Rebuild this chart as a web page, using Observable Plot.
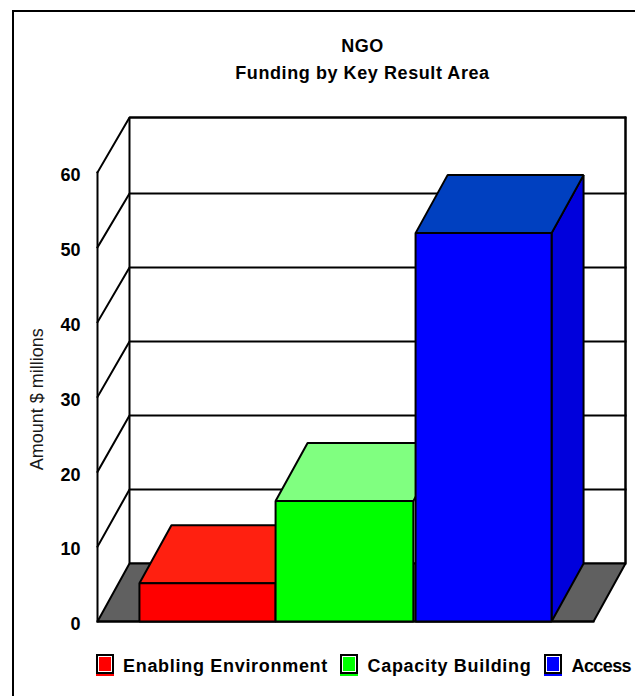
<!DOCTYPE html>
<html>
<head>
<meta charset="utf-8">
<script src="https://cdn.jsdelivr.net/npm/d3@7"></script>
<script src="https://cdn.jsdelivr.net/npm/@observablehq/plot@0.6"></script>
<style>
  html, body { margin: 0; padding: 0; background: #fff; overflow: hidden; }
  body { font-family: "Liberation Sans", Arial, sans-serif; color: #000; }
  #frame { position: relative; width: 635px; height: 696px; }
  #frame::before { content: ""; position: absolute; left: 12px; top: 10px; right: 0; bottom: 0;
    border-left: 2px solid #000; border-top: 2px solid #000; }
  #title { position: absolute; left: 90px; right: 0; top: 33px; height: 54px; text-align: center;
    font-weight: bold; font-size: 18px; letter-spacing: 0.58px; line-height: 27px; }
  #chart { position: absolute; left: 0; top: 100px; }
  #chart svg { display: block; }
  .key { position: absolute; top: 654px; display: flex; }
  .swatch { position: absolute; top: 0; width: 18px; height: 22px; box-sizing: border-box;
    border-bottom: 2px solid; }
  .swatch i { display: block; box-sizing: border-box; width: 18px; height: 20px;
    border: 2px solid #000; outline: 1px solid #fff; outline-offset: -3px; }
  .name { position: absolute; top: 2px; white-space: nowrap; font-weight: bold; font-size: 18px;
    letter-spacing: 0.7px; line-height: 20px; }
  .key:last-child .name { letter-spacing: -0.6px; }
</style>
</head>
<body>
<div id="frame">
  <div id="title">NGO<br>Funding by Key Result Area</div>
  <div id="chart"></div>
  <div id="legend"></div>
</div>
<script>
// Funding per key result area, $ millions
const categories = ["Enabling Environment", "Capacity Building", "Access"];
const funding = [5.1, 16.1, 51.9];
const barLeft = [0.305, 1.295, 2.313];
const barRight = [1.295, 2.297, 3.302];
const faceColors = ["#ff0000", "#00ff00", "#0000ff"];
const topColors = ["#ff2010", "#80ff80", "#0040c0"];
const sideColor = "#0000dc";
const floorColor = "#606060";
const yTicks = [0, 10, 20, 30, 40, 50, 60];
const legendSwatchX = [96, 340, 544];
const legendNameX = [123, 367.5, 571.5];

// Oblique projection: depth moves a point right and up, in scale units
const depthX = 0.2327, depthY = 7.75;
const floorEnd = 3.607, wallTop = 67.35;
const backLevel = v => v === 60 ? wallTop : depthY + v * 0.989;

const lineWidth = 2;
const outline = {stroke: "#000", strokeWidth: lineWidth, strokeLinejoin: "miter", curve: "linear-closed"};
const poly = (pts, fill) => Plot.line(pts, {x: "0", y: "1", fill, ...outline});
const seg = pts => Plot.line(pts, {x: "0", y: "1", stroke: "#000", strokeWidth: lineWidth, strokeLinecap: "square"});

const marks = [
  // back wall and floor
  poly([[depthX, depthY], [floorEnd + depthX, depthY], [floorEnd + depthX, wallTop], [depthX, wallTop]], "#fff"),
  poly([[0, 0], [depthX, depthY], [floorEnd + depthX, depthY], [floorEnd, 0]], floorColor),
  // gridlines across the back wall and down the left side
  ...yTicks.slice(1).map(v => seg([[0, v], [depthX, backLevel(v)], [floorEnd + depthX, backLevel(v)]])),
  seg([[floorEnd + depthX, depthY], [floorEnd + depthX, wallTop]]),
  seg([[0, 0], [0, 60]]),
  seg([[0, 0], [floorEnd, 0]])
];

// Bars drawn left to right so that each one overlaps its neighbour's top
funding.forEach((v, i) => {
  const x1 = barLeft[i], x2 = barRight[i];
  if (i === funding.length - 1) {
    marks.push(poly([[x2, 0], [x2 + depthX, depthY], [x2 + depthX, v + depthY], [x2, v]], sideColor));
  }
  marks.push(poly([[x1, v], [x1 + depthX, v + depthY], [x2 + depthX, v + depthY], [x2, v]], topColors[i]));
  marks.push(poly([[x1, 0], [x2, 0], [x2, v], [x1, v]], faceColors[i]));
});

marks.push(
  Plot.axisY({ticks: yTicks, tickSize: 0, tickPadding: 17, label: null, anchor: "left",
    fontSize: 18, fontWeight: "bold", fill: "#000", dy: 3, tickFormat: d => d}),
  Plot.text(["Amount $ millions"], {frameAnchor: "left", y: [29.7], dx: -60, rotate: -90, textAnchor: "middle",
    fontSize: 18, letterSpacing: 0.6, fill: "#1a1a1a", text: d => d})
);

const chart = Plot.plot({
  width: 635,
  height: 540,
  marginLeft: 97,
  marginRight: 10,
  marginTop: 17,
  marginBottom: 19,
  style: {fontFamily: "'Liberation Sans', Arial, sans-serif", background: "transparent", overflow: "visible"},
  x: {domain: [0, floorEnd + depthX], axis: null},
  y: {domain: [0, wallTop], axis: null},
  marks
});
document.getElementById("chart").append(chart);

// Legend row under the chart
const legend = document.getElementById("legend");
categories.forEach((name, i) => {
  const key = document.createElement("div");
  key.className = "key";
  key.innerHTML = `<span class="swatch" style="left:${legendSwatchX[i]}px;border-bottom-color:${faceColors[i]}"><i style="background:${faceColors[i]}"></i></span><span class="name" style="left:${legendNameX[i]}px">${name}</span>`;
  legend.append(key);
});
</script>
</body>
</html>
